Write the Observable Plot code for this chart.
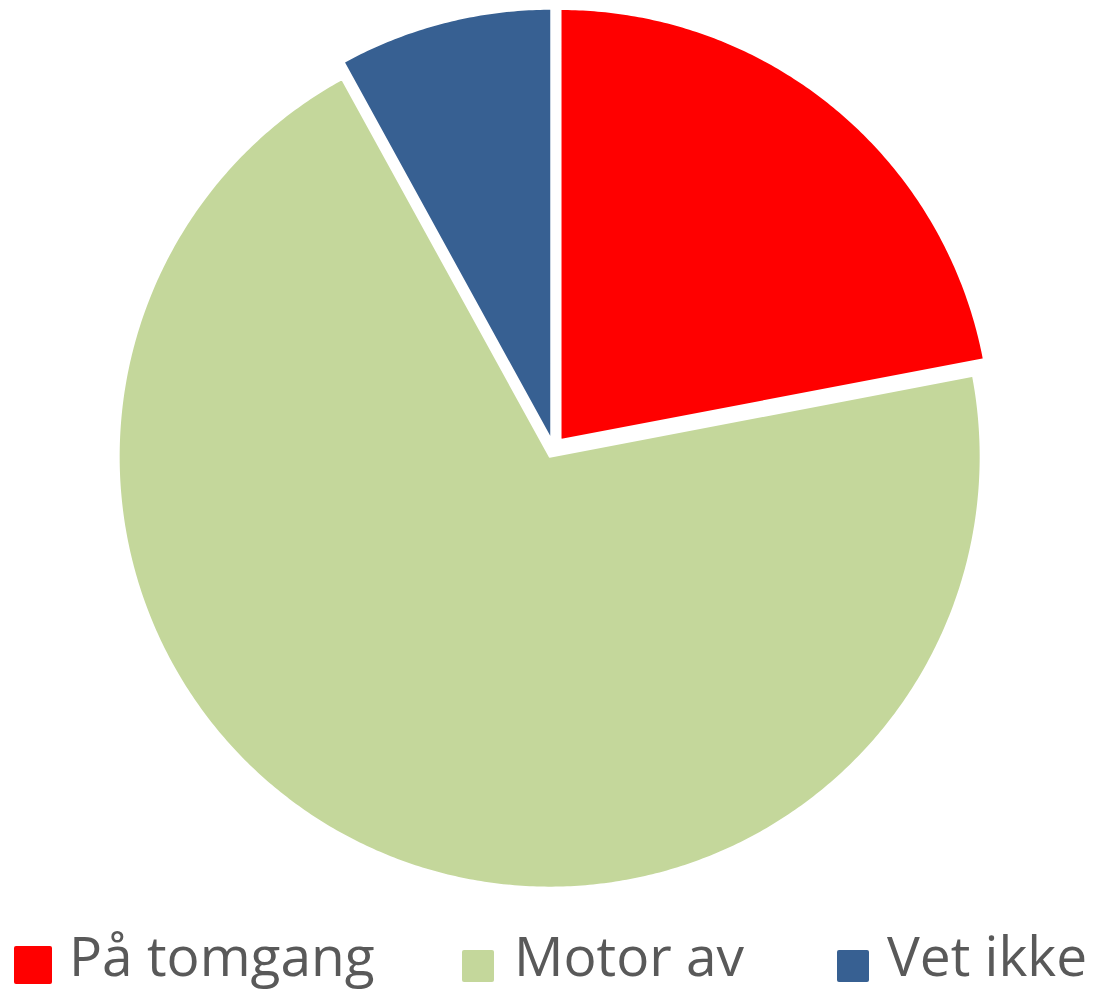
<!DOCTYPE html>
<html>
<head>
<meta charset="utf-8">
<script src="https://cdn.jsdelivr.net/npm/d3@7"></script>
<script src="https://cdn.jsdelivr.net/npm/@observablehq/plot@0.6"></script>
<style>
  html, body { margin: 0; padding: 0; background: #ffffff; }
  #wrap { position: relative; width: 1101px; height: 994px; }
  #chart svg { display: block; }
  .item { position: absolute; top: 920px; height: 70px; font-family: "Open Sans", sans-serif; font-size: 55px; color: #595959; white-space: nowrap; }
  .sw { position: absolute; border-radius: 2px; }
  .lbl { position: absolute; top: 0; line-height: 70px; }
</style>
</head>
<body>
<div id="wrap">
  <div id="chart"></div>
  <div id="legend"></div>
</div>
<script>
// ---- data ----
const labels = ["På tomgang", "Motor av", "Vet ikke"];
const values = [22, 70, 8];
const colors = ["#FF0000", "#C4D79B", "#376092"];

// ---- layout ----
const W = 1101, H = 900;
const R = 431;              // pie radius in px
const CX = 553, CY = 448;   // pie centre in px
const explodePx = [11, 9, 9];

// build slice outlines (in radius units) from d3.pie angles
const pie = d3.pie().sort(null).value(d => d.value)(labels.map((l, i) => ({label: l, value: values[i]})));
const pts = [];
pie.forEach((s, i) => {
  const mid = (s.startAngle + s.endAngle) / 2;
  const e = explodePx[i] / R;
  const ox = e * Math.sin(mid), oy = e * Math.cos(mid);
  pts.push({label: s.data.label, x: ox, y: oy});
  const n = Math.max(8, Math.ceil((s.endAngle - s.startAngle) / (Math.PI / 360)));
  for (let k = 0; k <= n; k++) {
    const a = s.startAngle + (s.endAngle - s.startAngle) * k / n;
    pts.push({label: s.data.label, x: ox + Math.sin(a), y: oy + Math.cos(a)});
  }
});

const chart = Plot.plot({
  width: W,
  height: H,
  margin: 0,
  x: {domain: [-CX / R, (W - CX) / R], range: [0, W], axis: null},
  y: {domain: [-(H - CY) / R, CY / R], range: [H, 0], axis: null},
  color: {domain: labels, range: colors},
  marks: [
    Plot.line(pts, {x: "x", y: "y", z: "label", fill: "label", stroke: "white", strokeWidth: 2, curve: "linear-closed"})
  ]
});
document.getElementById("chart").appendChild(chart);

// ---- legend ----
const legendPos = [
  {sw: 14, size: 38, swTop: 26, text: 69},
  {sw: 462, size: 32, swTop: 30, text: 514},
  {sw: 837, size: 32, swTop: 30, text: 887}
];
const leg = document.getElementById("legend");
labels.forEach((l, i) => {
  const p = legendPos[i];
  const it = document.createElement("div");
  it.className = "item";
  it.style.left = "0px";
  const sw = document.createElement("div");
  sw.className = "sw";
  sw.style.left = p.sw + "px";
  sw.style.top = p.swTop + "px";
  sw.style.width = p.size + "px";
  sw.style.height = p.size + "px";
  sw.style.background = colors[i];
  const t = document.createElement("div");
  t.className = "lbl";
  t.style.left = p.text + "px";
  t.textContent = l;
  it.appendChild(sw);
  it.appendChild(t);
  leg.appendChild(it);
});
</script>
</body>
</html>
